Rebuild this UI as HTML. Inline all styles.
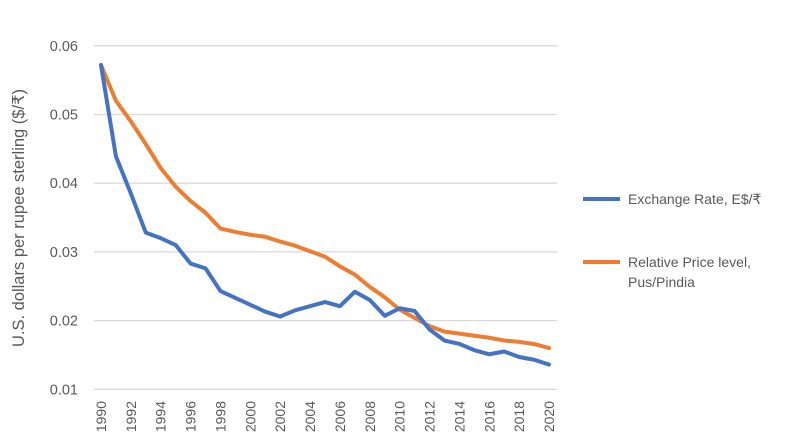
<!DOCTYPE html>
<html><head><meta charset="utf-8"><style>
body{margin:0;background:#fff;}
text{font-family:"Liberation Sans",sans-serif;fill:#595959;}
</style></head><body>
<svg id="c" width="792" height="440"></svg>
<script>
const years=[];for(let y=1990;y<=2020;y++)years.push(y);
const exchangeRate=[0.0572,0.0439,0.0385,0.0328,0.0320,0.0310,0.0283,0.0276,0.0243,0.0233,0.0223,0.0213,0.0206,0.0215,0.0221,0.0227,0.0221,0.0242,0.0230,0.0207,0.0218,0.0214,0.0187,0.0171,0.0166,0.0157,0.0151,0.0155,0.0147,0.0143,0.0136];
const relativePrice=[0.0572,0.0520,0.0490,0.0457,0.0422,0.0395,0.0374,0.0357,0.0334,0.0329,0.0325,0.0322,0.0315,0.0309,0.0301,0.0293,0.0279,0.0267,0.0249,0.0234,0.0216,0.0204,0.0192,0.0184,0.0181,0.0178,0.0175,0.0171,0.0169,0.0166,0.0160];
const yTicks=[0.01,0.02,0.03,0.04,0.05,0.06];
const NS="http://www.w3.org/2000/svg",svg=document.getElementById('c');
const X=y=>101+(y-1990)*(448/30);
const Y=v=>389.3-(v-0.01)*6870;
function mk(t,a,p){const e=document.createElementNS(NS,t);for(const k in a)e.setAttribute(k,a[k]);(p||svg).appendChild(e);return e;}
yTicks.forEach(v=>{
 const l=mk('line',{x1:94,x2:557,y1:Y(v),y2:Y(v),stroke:'#d9d9d9','stroke-width':1.3});
 
 
 const t=mk('text',{x:78,y:Y(v)+5,'text-anchor':'end','font-size':14.5});
 t.textContent=v.toFixed(2);
 
 
});
years.forEach(y=>{if(y%2)return;
 const t=mk('text',{transform:`translate(${X(y)+5},401) rotate(-90)`,'text-anchor':'end','font-size':14});
 t.textContent=y;
 
 
});
function series(vals,col,name){
 const p=mk('polyline',{points:vals.map((v,i)=>X(years[i])+','+Y(v)).join(' '),fill:'none',stroke:col,'stroke-width':4,'stroke-linejoin':'round','stroke-linecap':'round'});
 
 
}
series(relativePrice,'#ed7d31','relative-price-line');
series(exchangeRate,'#4472c4','exchange-rate-line');
const yt=mk('text',{transform:'translate(24,218) rotate(-90)','text-anchor':'middle','font-size':16.5});
yt.textContent='U.S. dollars per rupee sterling ($/₹)';


function leg(y,col,lines,name){
 const g=mk('g',{});
 
 
 mk('line',{x1:583,x2:620,y1:y,y2:y,stroke:col,'stroke-width':4},g);
 lines.forEach((s,i)=>{const t=mk('text',{x:628,y:y+5+i*20,'font-size':14},g);t.textContent=s;});
}
leg(199,'#4472c4',['Exchange Rate, E$/₹'],'legend-exchange-rate');
leg(262,'#ed7d31',['Relative Price level,','Pus/Pindia'],'legend-relative-price');
</script>
</body></html>
